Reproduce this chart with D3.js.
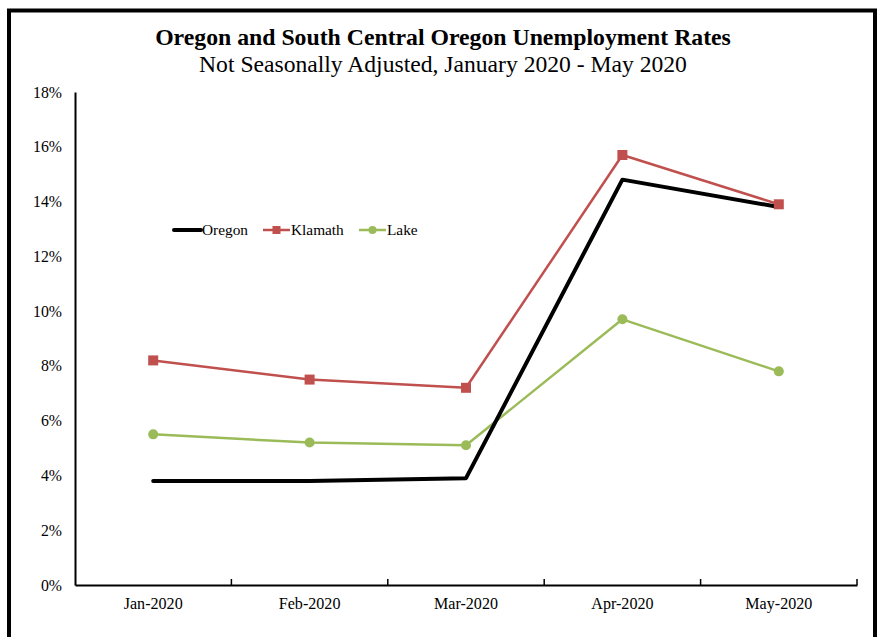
<!DOCTYPE html>
<html><head><meta charset="utf-8">
<script src="https://cdn.jsdelivr.net/npm/d3@7"></script>
<style>html,body{margin:0;padding:0;background:#fff;}svg{display:block;}</style>
</head><body>
<svg id="c" width="880" height="637"></svg>
<script>
const categories = ["Jan-2020","Feb-2020","Mar-2020","Apr-2020","May-2020"];
const oregon = [3.8, 3.8, 3.9, 14.8, 13.8];
const klamath = [8.2, 7.5, 7.2, 15.7, 13.9];
const lake = [5.5, 5.2, 5.1, 9.7, 7.8];
const yTicks = [0,2,4,6,8,10,12,14,16,18];
const seriesNames = ["Oregon","Klamath","Lake"];

const serif = "'Liberation Serif', 'DejaVu Serif', serif";
const svg = d3.select("#c");
svg.append("rect").attr("x",9).attr("y",10.5).attr("width",866).attr("height",640)
  .attr("fill","#fff").attr("stroke","#000").attr("stroke-width",4);

const L=75, R=857, T=92, B=585;
const x = d3.scaleBand().domain(categories).range([L,R]);
const y = d3.scaleLinear().domain([0,18]).range([B,T]);

function fitSize(str, base, target, weight){
  const t = svg.append("text").attr("font-family",serif).attr("font-size",base)
    .attr("font-weight",weight||"normal").text(str);
  const w = t.node().getComputedTextLength(); t.remove();
  return base*target/w;
}
const t1 = svg.append("text").attr("x",443).attr("y",45).attr("text-anchor","middle")
  .attr("font-family",serif).attr("font-weight","bold")
  .attr("font-size",fitSize("Oregon and South Central Oregon Unemployment Rates",22,576,"bold"))
  .text("Oregon and South Central Oregon Unemployment Rates");
const t2 = svg.append("text").attr("x",443).attr("y",72).attr("text-anchor","middle")
  .attr("font-family",serif)
  .attr("font-size",fitSize("Not Seasonally Adjusted, January 2020 - May 2020",22,488))
  .text("Not Seasonally Adjusted, January 2020 - May 2020");

const yfs = fitSize("18%",14,29);
const xfs = fitSize("Jan-2020",14,59);
const lfs = fitSize("Oregon",14,46);

// y axis labels
const ya = svg.append("g").attr("transform",`translate(${L},0)`)
  .call(d3.axisLeft(y).tickValues(yTicks).tickFormat(d=>d+"%").tickSize(0).tickPadding(13));
ya.select(".domain").attr("stroke","#000").attr("stroke-width",2);
ya.selectAll("text").attr("font-family",serif).attr("font-size",yfs).attr("fill","#000");

// x axis
const xa = svg.append("g").attr("transform",`translate(0,${B})`)
  .call(d3.axisBottom(x).tickSize(0).tickPadding(13));
xa.select(".domain").attr("stroke","#000").attr("stroke-width",2);
xa.selectAll("text").attr("font-family",serif).attr("font-size",xfs).attr("fill","#000");
const bounds = categories.map(c=>x(c)).concat([x(categories[4])+x.bandwidth()]);
svg.append("g").selectAll("line").data(bounds.slice(1)).join("line")
  .attr("x1",d=>d).attr("x2",d=>d).attr("y1",B).attr("y2",B-6)
  .attr("stroke","#000").attr("stroke-width",1.5);

const cx = c => x(c)+x.bandwidth()/2;
const line = d3.line().x((d,i)=>cx(categories[i])).y(d=>y(d));

svg.append("path").datum(klamath).attr("d",line).attr("fill","none")
  .attr("stroke","#C0504D").attr("stroke-width",2.5).attr("stroke-linejoin","round");
svg.append("path").datum(lake).attr("d",line).attr("fill","none")
  .attr("stroke","#9BBB59").attr("stroke-width",2.5).attr("stroke-linejoin","round");
svg.append("path").datum(oregon).attr("d",line).attr("fill","none")
  .attr("stroke","#000").attr("stroke-width",4).attr("stroke-linecap","round").attr("stroke-linejoin","round");

svg.append("g").selectAll("rect").data(klamath).join("rect")
  .attr("x",(d,i)=>cx(categories[i])-5).attr("y",d=>y(d)-5).attr("width",10).attr("height",10)
  .attr("fill","#C0504D");
svg.append("g").selectAll("circle").data(lake).join("circle")
  .attr("cx",(d,i)=>cx(categories[i])).attr("cy",d=>y(d)).attr("r",5)
  .attr("fill","#9BBB59");

// legend
const leg = [
  {name:seriesNames[0], x:174, color:"#000", w:4, marker:null},
  {name:seriesNames[1], x:263, color:"#C0504D", w:2.5, marker:"rect"},
  {name:seriesNames[2], x:359, color:"#9BBB59", w:2.5, marker:"circle"}
];
const ly = 230;
leg.forEach(l=>{
  svg.append("line").attr("x1",l.x).attr("x2",l.x+27).attr("y1",ly).attr("y2",ly)
    .attr("stroke",l.color).attr("stroke-width",l.w).attr("stroke-linecap", l.marker?"butt":"round");
  if(l.marker==="rect") svg.append("rect").attr("x",l.x+13.5-4).attr("y",ly-4).attr("width",8).attr("height",8).attr("fill",l.color);
  if(l.marker==="circle") svg.append("circle").attr("cx",l.x+13.5).attr("cy",ly).attr("r",4).attr("fill",l.color);
  svg.append("text").attr("x",l.x+28).attr("y",ly+5).attr("font-family",serif).attr("font-size",lfs)
    .attr("fill","#000").text(l.name);
});
</script>
</body></html>
